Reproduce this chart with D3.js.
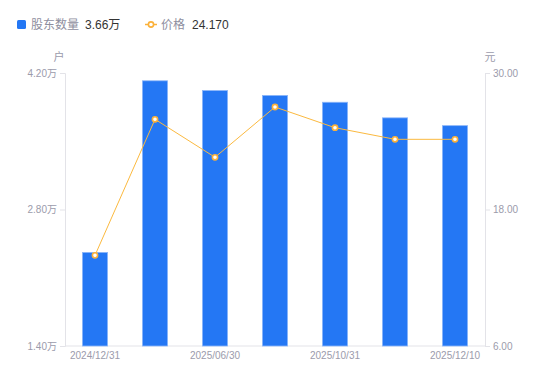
<!DOCTYPE html>
<html lang="zh">
<head>
    <meta charset="UTF-8">
    <title>股东数量</title>
    <script src="https://cdn.jsdelivr.net/npm/d3@7"></script>
    <style>
        body { margin: 0; background: #fff; font-family: "Noto Sans CJK SC", "Noto Sans", sans-serif; }
    </style>
</head>
<body>
    <script>
        var width = 550;
        var height = 381;

        var dates = ["2024/12/31", "2025/03/31", "2025/06/30", "2025/09/30", "2025/10/31", "2025/11/30", "2025/12/10"];
        var holders = [2.36, 4.12, 4.02, 3.97, 3.90, 3.74, 3.66];   // 万户
        var prices = [13.97, 25.93, 22.59, 27.01, 25.19, 24.17, 24.17]; // 元
        var holderTicks = [1.40, 2.80, 4.20];
        var priceTicks = [6, 18, 30];
        var shownDates = ["2024/12/31", "2025/06/30", "2025/10/31", "2025/12/10"];

        var pLeft = 65, pRight = 485, pTop = 73, pBottom = 346;
        var gray = "#9b9bab";
        var axisColor = "#e3e3e8";
        var numFont = "'Liberation Sans', 'Noto Sans CJK SC', sans-serif";

        var svg = d3.select("body").append("svg")
            .attr("width", width)
            .attr("height", height)
            .style("display", "block")

        var x = d3.scaleBand().domain(dates).range([pLeft, pRight]).paddingInner(0.58).paddingOuter(0.29)
        var yL = d3.scaleLinear().domain([1.40, 4.20]).range([pBottom, pTop])
        var yR = d3.scaleLinear().domain([6, 30]).range([pBottom, pTop])

        // left axis
        var gl = svg.append("g")
            .attr("transform", "translate(" + pLeft + ",0)")
            .call(d3.axisLeft(yL).tickValues(holderTicks).tickSize(5).tickPadding(3).tickFormat(d => d3.format(".2f")(d) + "万"))
        // right axis
        var gr = svg.append("g")
            .attr("transform", "translate(" + pRight + ",0)")
            .call(d3.axisRight(yR).tickValues(priceTicks).tickSize(5).tickPadding(3).tickFormat(d3.format(".2f")))
        // bottom axis
        var gb = svg.append("g")
            .attr("transform", "translate(0," + pBottom + ")")
            .call(d3.axisBottom(x).tickSize(0).tickPadding(6).tickFormat(d => shownDates.includes(d) ? d : ""))

        ;[gl, gr, gb].forEach(g => {
            g.select(".domain").attr("stroke", axisColor)
            g.selectAll(".tick line").attr("stroke", axisColor)
            g.selectAll("text").attr("fill", gray).style("font-size", "10px")
                .style("font-family", numFont)
        })
        gb.select(".domain").attr("d", "M" + pLeft + ",0H" + pRight)

        // unit labels
        svg.append("text").attr("x", 59).attr("y", 61).attr("text-anchor", "middle")
            .attr("fill", gray).style("font-size", "11px").text("户")
        svg.append("text").attr("x", 490).attr("y", 61).attr("text-anchor", "middle")
            .attr("fill", gray).style("font-size", "11px").text("元")

        // bars
        svg.selectAll("rect.bar")
            .data(holders)
            .join("rect")
            .attr("class", "bar")
            .attr("x", (d, i) => x(dates[i]))
            .attr("y", d => yL(d))
            .attr("width", x.bandwidth())
            .attr("height", d => pBottom - yL(d))
            .attr("fill", "#2477f4")
            .attr("stroke", "#8cb6f9")
            .attr("stroke-width", 0.8)

        // price line
        var line = d3.line().x((d, i) => x(dates[i]) + x.bandwidth() / 2).y(d => yR(d))
        svg.append("path")
            .datum(prices)
            .attr("d", line)
            .attr("fill", "none")
            .attr("stroke", "#fbb93f")
            .attr("stroke-width", 1)

        svg.selectAll("circle.pt")
            .data(prices)
            .join("circle")
            .attr("class", "pt")
            .attr("cx", (d, i) => x(dates[i]) + x.bandwidth() / 2)
            .attr("cy", d => yR(d))
            .attr("r", 2.6)
            .attr("fill", "#fff")
            .attr("stroke", "#fbb13a")
            .attr("stroke-width", 1.6)

        // legend
        var lg = svg.append("g").style("font-size", "12px")
        lg.append("rect").attr("x", 17).attr("y", 20).attr("width", 9).attr("height", 9).attr("rx", 1.5).attr("fill", "#2477f4")
        lg.append("text").attr("x", 31).attr("y", 29).attr("fill", "#8e8e9e").text("股东数量")
        lg.append("text").attr("x", 85).attr("y", 29).attr("fill", "#333").style("font-family", numFont)
            .text(d3.format(".2f")(holders[holders.length - 1]) + "万")
        lg.append("line").attr("x1", 145).attr("x2", 157).attr("y1", 24.5).attr("y2", 24.5).attr("stroke", "#fbb13a").attr("stroke-width", 1.5)
        lg.append("circle").attr("cx", 151).attr("cy", 24.5).attr("r", 2.6).attr("fill", "#fff").attr("stroke", "#fbb13a").attr("stroke-width", 1.6)
        lg.append("text").attr("x", 161).attr("y", 29).attr("fill", "#8e8e9e").text("价格")
        lg.append("text").attr("x", 192).attr("y", 29).attr("fill", "#333").style("font-family", numFont)
            .text(d3.format(".3f")(prices[prices.length - 1]))
    </script>
</body>
</html>
